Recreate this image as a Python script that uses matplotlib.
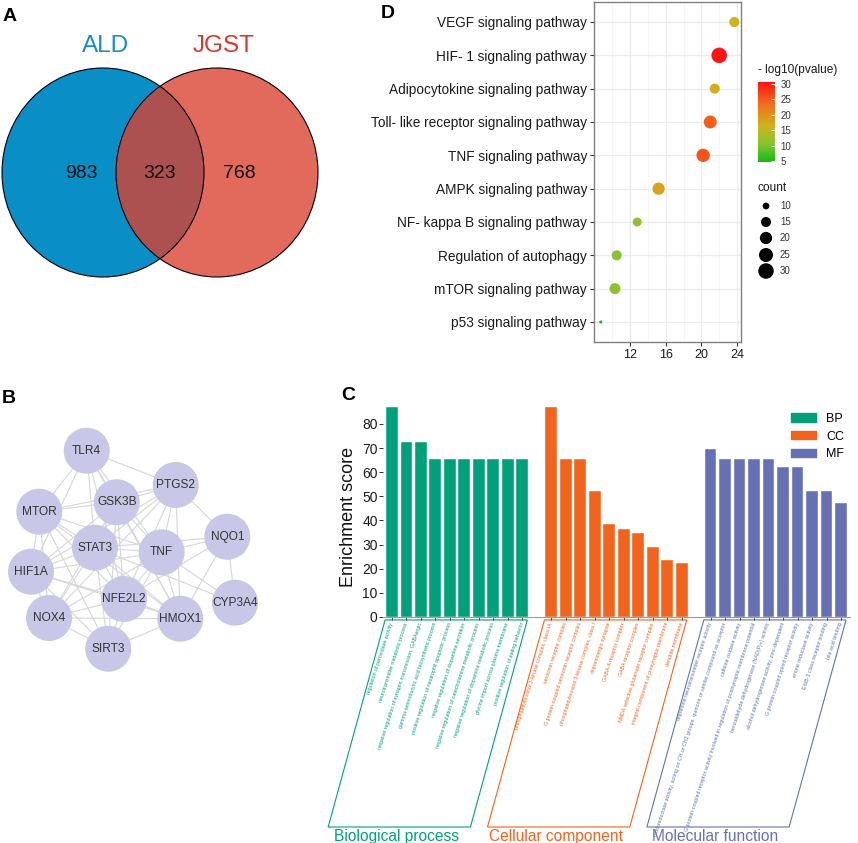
# -*- coding: utf-8 -*-
import matplotlib
matplotlib.use("Agg")
import matplotlib.pyplot as plt
import matplotlib.transforms as mtransforms
from matplotlib.patches import Ellipse, Circle, Polygon, Patch
from matplotlib.colors import LinearSegmentedColormap
import numpy as np

plt.rcParams['font.family'] = ['Liberation Sans', 'DejaVu Sans']

W = 858
H = 843

# ---------- data ----------
# A: venn
vennNames = ["ALD", "JGST"]
vennCounts = [983, 323, 768]  # ALD only, shared, JGST only

# B: PPI network
ppiNodes = ["TLR4", "PTGS2", "GSK3B", "MTOR", "NQO1", "STAT3", "TNF",
            "HIF1A", "NFE2L2", "CYP3A4", "NOX4", "HMOX1", "SIRT3"]
ppiEdges = [
    ("TLR4", "MTOR"), ("TLR4", "GSK3B"), ("TLR4", "STAT3"), ("TLR4", "TNF"),
    ("TLR4", "PTGS2"), ("TLR4", "HIF1A"), ("TLR4", "NFE2L2"), ("TLR4", "HMOX1"),
    ("PTGS2", "GSK3B"), ("PTGS2", "MTOR"), ("PTGS2", "STAT3"), ("PTGS2", "TNF"),
    ("PTGS2", "NQO1"), ("PTGS2", "NFE2L2"), ("PTGS2", "HMOX1"), ("PTGS2", "HIF1A"),
    ("PTGS2", "NOX4"),
    ("GSK3B", "MTOR"), ("GSK3B", "STAT3"), ("GSK3B", "TNF"), ("GSK3B", "NFE2L2"),
    ("GSK3B", "HIF1A"), ("GSK3B", "HMOX1"), ("GSK3B", "NOX4"), ("GSK3B", "SIRT3"),
    ("MTOR", "STAT3"), ("MTOR", "TNF"), ("MTOR", "HIF1A"), ("MTOR", "NFE2L2"),
    ("MTOR", "NOX4"), ("MTOR", "SIRT3"), ("MTOR", "HMOX1"),
    ("NQO1", "TNF"), ("NQO1", "HMOX1"), ("NQO1", "NFE2L2"), ("NQO1", "CYP3A4"),
    ("NQO1", "STAT3"),
    ("STAT3", "TNF"), ("STAT3", "HIF1A"), ("STAT3", "NFE2L2"), ("STAT3", "NOX4"),
    ("STAT3", "HMOX1"), ("STAT3", "SIRT3"), ("STAT3", "CYP3A4"),
    ("TNF", "HIF1A"), ("TNF", "NFE2L2"), ("TNF", "NOX4"), ("TNF", "HMOX1"),
    ("TNF", "SIRT3"), ("TNF", "CYP3A4"),
    ("HIF1A", "NFE2L2"), ("HIF1A", "NOX4"), ("HIF1A", "HMOX1"), ("HIF1A", "SIRT3"),
    ("NFE2L2", "NOX4"), ("NFE2L2", "HMOX1"), ("NFE2L2", "SIRT3"),
    ("NOX4", "SIRT3"), ("NOX4", "HMOX1"), ("HMOX1", "SIRT3"),
]

# D: KEGG dot plot
keggTerms = ["VEGF signaling pathway", "HIF- 1 signaling pathway",
             "Adipocytokine signaling pathway", "Toll- like receptor signaling pathway",
             "TNF signaling pathway", "AMPK signaling pathway",
             "NF- kappa B signaling pathway", "Regulation of autophagy",
             "mTOR signaling pathway", "p53 signaling pathway"]
keggX = [23.7, 22.0, 21.5, 21.0, 20.2, 15.2, 12.8, 10.5, 10.3, 8.7]
keggCount = [15, 30, 15, 22, 23, 20, 13, 15, 17, 8]
keggLogP = [16.5, 30.6, 17.0, 24.5, 25.5, 18.0, 11.0, 10.5, 11.0, 4.7]
countBreaks = [10, 15, 20, 25, 30]
logpBreaks = [5, 10, 15, 20, 25, 30]

# C: GO enrichment
goGroups = ["BP", "CC", "MF"]
goGroupNames = ["Biological process", "Cellular component", "Molecular function"]
goColors = ["#02a07a", "#f0641e", "#6571b2"]
bpTerms = ["regulation of peroxidase activity",
           "neurotransmitter metabolic process",
           "negative regulation of synaptic transmission, GABAergic",
           "gamma-aminobutyric acid biosynthetic process",
           "positive regulation of neutrophil apoptotic process",
           "negative regulation of dopamine secretion",
           "negative regulation of catecholamine metabolic process",
           "negative regulation of dopamine metabolic process",
           "glycine import across plasma membrane",
           "positive regulation of eating behavior"]
bpScores = [87.0, 72.5, 72.5, 65.3, 65.3, 65.3, 65.3, 65.3, 65.3, 65.3]
ccTerms = ["phosphatidylinositol 3-kinase complex, class IA",
           "serotonin receptor complex",
           "G protein-coupled serotonin receptor complex",
           "phosphatidylinositol 3-kinase complex, class I",
           "dopaminergic synapse",
           "GABA-A receptor complex",
           "GABA receptor complex",
           "NMDA selective glutamate receptor complex",
           "integral component of presynaptic membrane",
           "dendrite membrane"]
ccScores = [87.0, 65.3, 65.3, 52.1, 38.6, 36.5, 34.7, 28.9, 23.6, 22.3]
mfTerms = ["dopamine neurotransmitter receptor activity",
           "oxidoreductase activity, acting on CH or CH2 groups, quinone or similar compound as acceptor",
           "caffeine oxidase activity",
           "G protein-coupled receptor activity involved in regulation of postsynaptic membrane potential",
           "benzaldehyde dehydrogenase (NAD(P)+) activity",
           "alcohol dehydrogenase activity, zinc-dependent",
           "G protein-coupled opioid receptor activity",
           "enone reductase activity",
           "ErbB-3 class receptor binding",
           "bile acid binding"]
mfScores = [69.6, 65.3, 65.3, 65.3, 65.3, 62.1, 62.1, 52.1, 52.1, 47.4]


def pxAxes(fig, x, y, w, h):
    # axes placed with pixel box measured from the top-left corner
    return fig.add_axes([x / W, 1 - (y + h) / H, w / W, h / H])


def dotSize(c, cmin, cmax):
    d = 3 + 12.5 * np.sqrt((np.asarray(c, float) - cmin) / (cmax - cmin))
    return (d * 0.72) ** 2


fig = plt.figure(figsize=(W / 100, H / 100), dpi=100)

# ---------- A ----------
axa = pxAxes(fig, 0, 0, 380, 330)
axa.set_xlim(0, 380)
axa.set_ylim(330, 0)
axa.axis("off")
left = Ellipse((103, 172.5), 202, 209, facecolor="#0a8ec6", edgecolor="none")
right = Ellipse((217, 172.5), 202, 209, facecolor="#e16a5c", edgecolor="none")
axa.add_patch(left)
axa.add_patch(right)
mid = Ellipse((217, 172.5), 202, 209, facecolor="#ad5050", edgecolor="none")
axa.add_patch(mid)
mid.set_clip_path(left)
for cx in (103, 217):
    axa.add_patch(Ellipse((cx, 172.5), 202, 209, facecolor="none",
                          edgecolor="black", lw=0.8))
axa.text(106, 46, vennNames[0], color="#1a8bc8", fontsize=17.5, ha="center", va="center")
axa.text(224, 46, vennNames[1], color="#d63a2c", fontsize=17.5, ha="center", va="center")
for xx, v in zip([81, 160, 239], vennCounts):
    axa.text(xx, 173, str(v), fontsize=14, ha="center", va="center", color="#111111")

# ---------- B ----------
nodePos = {"TLR4": (86.7, 450.7), "PTGS2": (175.7, 485), "GSK3B": (116.7, 502.3),
           "MTOR": (39.3, 511.7), "NQO1": (227.3, 536.7), "STAT3": (95, 547.7),
           "TNF": (161.7, 552.3), "HIF1A": (31, 571.7), "NFE2L2": (124, 599),
           "CYP3A4": (235, 602.7), "NOX4": (49, 618), "HMOX1": (180.3, 618.7),
           "SIRT3": (108.3, 648.7)}
axb = pxAxes(fig, 0, 380, 330, 320)
axb.set_xlim(0, 330)
axb.set_ylim(700, 380)
axb.axis("off")
for a, b in ppiEdges:
    axb.plot([nodePos[a][0], nodePos[b][0]], [nodePos[a][1], nodePos[b][1]],
             color="#d6d6d6", lw=0.8, zorder=1)
for n in ppiNodes:
    axb.add_patch(Circle(nodePos[n], 23, facecolor="#c9c7e7", edgecolor="none", zorder=2))
    axb.text(nodePos[n][0], nodePos[n][1], n, fontsize=8.6, color="#333333",
             ha="center", va="center", zorder=3)

# ---------- D ----------
cmap = LinearSegmentedColormap.from_list(
    "pv", [(0, "#14ba14"), (0.22, "#86c42e"), (0.45, "#cfb31c"),
           (0.72, "#f26e1c"), (1, "#ff1414")])
cmin, cmax = min(keggCount), max(keggCount)
axd = pxAxes(fig, 594, 2, 147, 340)
ypos = np.arange(len(keggTerms))[::-1]
sc = axd.scatter(keggX, ypos, s=dotSize(keggCount, cmin, cmax), c=keggLogP, cmap=cmap,
                 vmin=min(keggLogP), vmax=max(keggLogP), edgecolors="none", zorder=3)
span = max(keggX) - min(keggX)
axd.set_xlim(min(keggX) - 0.05 * span, max(keggX) + 0.05 * span)
axd.set_ylim(-0.6, len(keggTerms) - 0.4)
axd.set_yticks(ypos)
axd.set_yticklabels(keggTerms, fontsize=9.8, color="#1a1a1a")
axd.set_xticks([12, 16, 20, 24])
axd.set_xticks([10, 14, 18, 22], minor=True)
axd.tick_params(axis="x", labelsize=9, labelcolor="#1a1a1a")
axd.tick_params(which="major", length=3, color="#333333", width=0.8, pad=2)
axd.tick_params(which="minor", length=0)
axd.grid(which="major", color="#ebebeb", lw=0.9)
axd.grid(which="minor", axis="x", color="#f3f3f3", lw=0.5)
axd.set_axisbelow(True)
for s in axd.spines.values():
    s.set_color("#808080")
    s.set_linewidth(1.0)

cax = pxAxes(fig, 758, 82, 17, 80)
cb = fig.colorbar(sc, cax=cax, ticks=logpBreaks)
cb.outline.set_visible(False)
cax.tick_params(direction="in", color="white", length=3, width=0.8,
                labelsize=7, labelcolor="#333333", pad=4)
fig.text(758 / W, 1 - 70 / H, "- log10(pvalue)", fontsize=8.6, va="center", color="#1a1a1a")
fig.text(758 / W, 1 - 188 / H, "count", fontsize=8.6, va="center", color="#1a1a1a")
axs = pxAxes(fig, 750, 196, 70, 84)
axs.set_xlim(750, 820)
axs.set_ylim(280, 196)
axs.axis("off")
legY = np.array([206, 222, 238, 255, 271])
axs.scatter(np.full(len(countBreaks), 766), legY, s=dotSize(countBreaks, cmin, cmax),
            color="black", edgecolors="none")
for yy, v in zip(legY, countBreaks):
    axs.text(780, yy, str(v), fontsize=7, va="center", color="#333333")

# ---------- C ----------
axc = pxAxes(fig, 383.2, 407, 466.5, 210)
allScores = [bpScores, ccScores, mfScores]
allTerms = [bpTerms, ccTerms, mfTerms]
tickX = []
tickLab = []
tickCol = []
for g in range(3):
    xs = g * 11 + np.arange(len(allScores[g]))
    axc.bar(xs, allScores[g], width=0.81, color=goColors[g], edgecolor="white",
            lw=0.3, label=goGroups[g])
    tickX += list(xs)
    tickLab += allTerms[g]
    tickCol += [goColors[g]] * len(xs)
axc.set_xlim(-0.6, 31.6)
axc.set_ylim(0, max(max(s) for s in allScores))
axc.set_yticks(np.arange(0, 81, 10))
axc.set_xticks(tickX)
axc.set_xticklabels(tickLab, rotation=72, ha="right", va="center",
                    rotation_mode="anchor", fontsize=3.8)
for t, c in zip(axc.get_xticklabels(), tickCol):
    t.set_color(c)
axc.tick_params(axis="x", length=2.5, width=0.6, color="#333333", pad=1.5)
axc.tick_params(axis="y", length=3, width=0.7, color="#333333", labelsize=10,
                labelcolor="#1a1a1a", pad=1)
for k in ["top", "right", "left"]:
    axc.spines[k].set_visible(False)
axc.spines["bottom"].set_color("#9a9a9a")
axc.spines["bottom"].set_linewidth(0.8)
axc.set_ylabel("Enrichment score", fontsize=13, color="#111111")
axc.yaxis.set_label_coords(-0.056, 0.476)

trans = mtransforms.blended_transform_factory(axc.transData, axc.transAxes)
shift = -3.93
for g in range(3):
    x0 = g * 11 - 0.47
    x1 = g * 11 + 9.35
    yTop, yBot = -0.014, -1.0
    poly = Polygon([(x0, yTop), (x1, yTop), (x1 + shift, yBot), (x0 + shift, yBot)],
                   closed=True, fill=False, edgecolor=goColors[g], lw=0.8,
                   transform=trans, clip_on=False)
    axc.add_patch(poly)
    axc.text((x0 + x1) / 2 + shift - 0.2, yBot - 0.008, goGroupNames[g], color=goColors[g],
             fontsize=11.2, ha="center", va="top", transform=trans)

axc.legend(handles=[Patch(color=goColors[i], label=goGroups[i]) for i in range(3)],
           loc="upper left", bbox_to_anchor=(791 / W, 1 - 413 / H),
           bbox_transform=fig.transFigure, frameon=False, fontsize=9,
           handlelength=2.0, handleheight=0.65, labelspacing=0.45,
           handletextpad=0.8, borderpad=0, borderaxespad=0)

# panel letters
for lab, x, y in [("A", 3, 21), ("B", 2, 403), ("C", 341, 400), ("D", 381, 18)]:
    fig.text(x / W, 1 - y / H, lab, fontsize=14, fontweight="bold", va="baseline")

fig.savefig("out.png", dpi=100)
